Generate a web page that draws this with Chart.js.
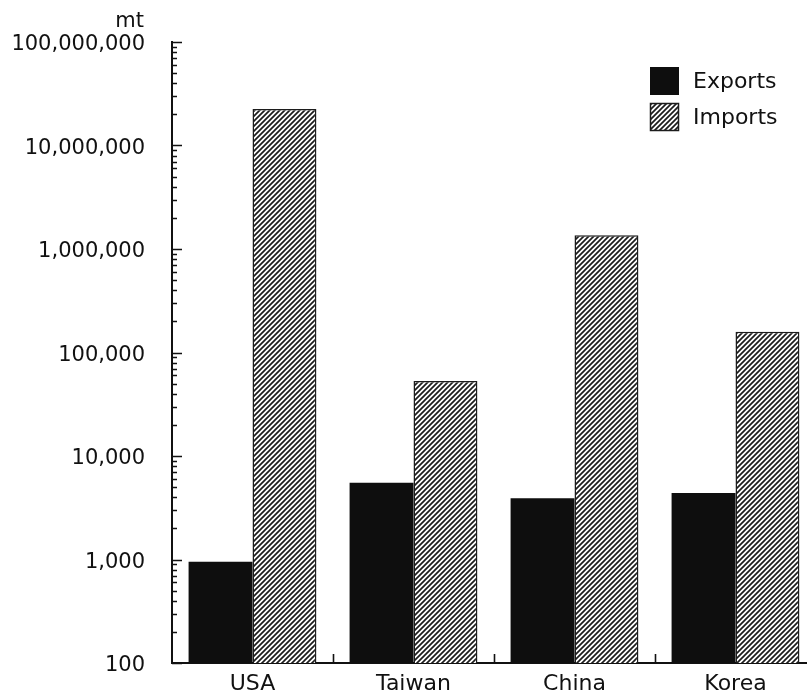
<!DOCTYPE html>
<html>
<head>
<meta charset="utf-8">
<script src="https://cdn.jsdelivr.net/npm/chart.js@4/dist/chart.umd.min.js"></script>
<style>
  html, body { margin: 0; padding: 0; background: #fff; overflow: hidden; }
  #wrap { width: 820px; height: 695px; }
</style>
</head>
<body>
<div id="wrap"><canvas id="c" width="820" height="695"></canvas></div>
<script>
// Trade volumes in metric tonnes, per country
const countries = ['USA', 'Taiwan', 'China', 'Korea'];
const exportsMt = [950, 5500, 3900, 4400];
const importsMt = [22500000, 53000, 1360000, 159000];

// Decade ticks of the log axis and their printed labels
const decadeTicks = [100, 1000, 10000, 100000, 1000000, 10000000, 100000000];
const decadeLabels = ['100', '1,000', '10,000', '100,000', '1,000,000', '10,000,000', '100,000,000'];
const unitLabel = 'mt';

const INK = '#111111';

// Diagonal "/" hatching used for the imports bars
function hatchPattern() {
  const s = 5;
  const c = document.createElement('canvas');
  c.width = s; c.height = s;
  const g = c.getContext('2d');
  g.fillStyle = '#ffffff';
  g.fillRect(0, 0, s, s);
  g.strokeStyle = '#1c1c1c';
  g.lineWidth = 1.7;
  g.beginPath();
  g.moveTo(-1, s + 1); g.lineTo(s + 1, -1);
  g.moveTo(-1, 1); g.lineTo(1, -1);
  g.moveTo(s - 1, s + 1); g.lineTo(s + 1, s - 1);
  g.stroke();
  return g.createPattern(c, 'repeat');
}

// Inward tick marks on both axes, the unit caption and the legend
const axisDecor = {
  id: 'axisDecor',
  afterDatasetsDraw(chart) {
    const ctx = chart.ctx;
    const y = chart.scales.y;
    const x = chart.scales.x;
    const area = chart.chartArea;
    ctx.save();
    ctx.strokeStyle = INK;
    ctx.lineWidth = 1.6;
    ctx.lineCap = 'butt';

    // y axis: long ticks at decades, short ticks at 2..9
    ctx.beginPath();
    for (let i = 0; i < decadeTicks.length; i++) {
      const base = decadeTicks[i];
      const py = Math.round(y.getPixelForValue(base)) + 0.5;
      ctx.moveTo(area.left, py); ctx.lineTo(area.left + 10, py);
      if (i < decadeTicks.length - 1) {
        for (let d = 2; d <= 9; d++) {
          const my = Math.round(y.getPixelForValue(base * d)) + 0.5;
          ctx.moveTo(area.left, my); ctx.lineTo(area.left + 5, my);
        }
      }
    }
    ctx.stroke();

    // x axis: short upward ticks between country groups
    ctx.beginPath();
    for (let i = 0; i < countries.length - 1; i++) {
      const bx = Math.round((x.getPixelForValue(i) + x.getPixelForValue(i + 1)) / 2) + 0.5;
      ctx.moveTo(bx, area.bottom); ctx.lineTo(bx, area.bottom - 9);
    }
    ctx.stroke();

    // unit caption above the top tick label
    ctx.fillStyle = INK;
    ctx.font = '21px "DejaVu Sans"';
    ctx.textAlign = 'right';
    ctx.textBaseline = 'alphabetic';
    ctx.fillText(unitLabel, 144, 27);

    // legend
    const lx = 650, ly = 67, bw = 29, bh = 28, gap = 36;
    ctx.font = '22px "DejaVu Sans"';
    ctx.textAlign = 'left';
    ctx.textBaseline = 'middle';
    chart.data.datasets.forEach((ds, i) => {
      const top = ly + i * gap;
      ctx.fillStyle = ds.backgroundColor;
      ctx.fillRect(lx, top, bw, bh);
      if (ds.borderWidth) {
        ctx.strokeStyle = ds.borderColor;
        ctx.lineWidth = 1.5;
        ctx.strokeRect(lx + 0.5, top + 0.5, bw - 1, bh - 1);
      }
      ctx.fillStyle = INK;
      ctx.fillText(ds.label, 693, top + bh / 2 + 1);
    });
    ctx.restore();
  }
};

Chart.defaults.font.family = '"DejaVu Sans", sans-serif';
Chart.defaults.color = INK;

new Chart(document.getElementById('c'), {
  type: 'bar',
  data: {
    labels: countries,
    datasets: [
      {
        label: 'Exports',
        data: exportsMt,
        backgroundColor: '#0e0e0e',
        borderWidth: 0,
        barPercentage: 1.0,
        categoryPercentage: 0.794
      },
      {
        label: 'Imports',
        data: importsMt,
        backgroundColor: hatchPattern(),
        borderColor: '#1c1c1c',
        borderWidth: 1.5,
        borderSkipped: 'bottom',
        barPercentage: 1.0,
        categoryPercentage: 0.794
      }
    ]
  },
  options: {
    responsive: false,
    devicePixelRatio: 1,
    animation: false,
    layout: { padding: { top: 42, right: 4, left: 0, bottom: 0 } },
    plugins: {
      legend: { display: false },
      tooltip: { enabled: false },
      title: { display: false }
    },
    scales: {
      x: {
        grid: { display: false, drawTicks: false },
        border: { display: true, color: INK, width: 2 },
        ticks: { font: { size: 22 }, padding: 8, color: INK },
        afterFit(s) { s.height = 32; s.paddingLeft = 0; s.paddingRight = 0; }
      },
      y: {
        type: 'logarithmic',
        min: 100,
        max: 100000000,
        grid: { display: false, drawTicks: false },
        border: { display: true, color: INK, width: 2 },
        afterBuildTicks(s) { s.ticks = decadeTicks.map(v => ({ value: v })); },
        ticks: {
          autoSkip: false,
          font: { size: 21 },
          padding: 27,
          labelOffset: 3,
          color: INK,
          callback: (v, i) => decadeLabels[i]
        },
        afterFit(s) { s.width = 172; s.paddingTop = 0; s.paddingBottom = 0; }
      }
    }
  },
  plugins: [axisDecor]
});
</script>
</body>
</html>
